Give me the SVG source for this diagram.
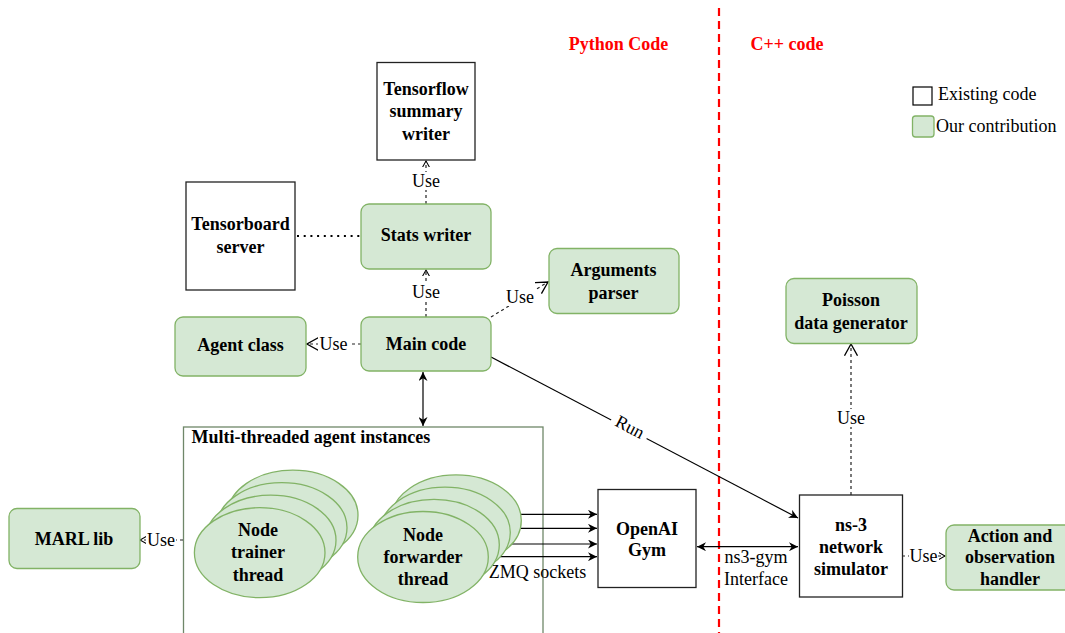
<svg xmlns="http://www.w3.org/2000/svg" width="1065" height="633" viewBox="0 0 1065 633" font-family="'Liberation Serif', 'Times New Roman', serif" font-size="18">
<style>
text{font-family:'Liberation Serif','Times New Roman',serif;font-size:18px;fill:#000}
.b{font-weight:bold}
.c{text-anchor:middle}
.red{fill:#ff0000;font-weight:bold}
.green{fill:#d5e8d4;stroke:#82b366;stroke-width:1.3}
.plain{fill:#fff;stroke:#222;stroke-width:1.3}
.ln{fill:none;stroke:#000;stroke-width:1.2}
.dash{fill:none;stroke:#222;stroke-width:1.2;stroke-dasharray:3 3}
.dot{fill:none;stroke:#000;stroke-width:2.2;stroke-dasharray:2 4.7}
.lbl{fill:#fff;stroke:none}
</style>
<defs>
<marker id="fa" viewBox="0 0 10 10" refX="10" refY="5" markerWidth="10" markerHeight="9" markerUnits="userSpaceOnUse" orient="auto-start-reverse">
<path d="M0,0 L10,5 L0,10 L3,5 z" fill="#000"/>
</marker>
<marker id="os" viewBox="0 0 10 10" refX="9" refY="5" markerWidth="7" markerHeight="8" markerUnits="userSpaceOnUse" orient="auto">
<path d="M0,0 L9,5 L0,10" fill="none" stroke="#000" stroke-width="1.5"/>
</marker>
<marker id="ol" viewBox="0 0 10 10" refX="9" refY="5" markerWidth="13" markerHeight="14" markerUnits="userSpaceOnUse" orient="auto">
<path d="M0,0 L9,5 L0,10" fill="none" stroke="#000" stroke-width="1"/>
</marker>
</defs>
<rect width="1065" height="633" fill="#fff"/>

<g id="divider">
<line x1="719" y1="8" x2="719" y2="633" stroke="#ff0000" stroke-width="2.2" stroke-dasharray="8 5"/>
<text class="red c" x="618.5" y="50" font-family="'Liberation Serif', serif">Python Code</text>
<text class="red c" x="787" y="50" font-family="'Liberation Serif', serif">C++ code</text>
</g>

<g id="legend" font-family="'Liberation Serif', serif">
<rect x="913" y="87" width="19" height="18" fill="#fff" stroke="#000" stroke-width="1.2"/>
<text x="938" y="100">Existing code</text>
<rect x="912.5" y="116" width="21.5" height="21" rx="3" class="green"/>
<text x="936" y="131.5">Our contribution</text>
</g>

<g id="container" font-family="'Liberation Serif', serif">
<rect x="183.5" y="427" width="359.5" height="230" fill="none" stroke="#6f8769" stroke-width="1.3"/>
<text class="b" x="191.5" y="443">Multi-threaded agent instances</text>
</g>

<g id="connectors" font-family="'Liberation Serif', serif">
<line class="dash" x1="426" y1="204" x2="426" y2="161" marker-end="url(#os)"/>
<rect class="lbl" x="411" y="172" width="30" height="18"/>
<text class="c" x="426" y="187">Use</text>
<line class="dash" x1="426" y1="317" x2="426" y2="270" marker-end="url(#os)"/>
<rect class="lbl" x="411" y="283" width="30" height="18"/>
<text class="c" x="426" y="298">Use</text>
<line class="dash" x1="361" y1="344" x2="307" y2="344" marker-end="url(#ol)"/>
<rect class="lbl" x="318" y="335" width="31" height="18"/>
<text class="c" x="333.5" y="350">Use</text>
<line class="dash" x1="491" y1="317" x2="548" y2="282" marker-end="url(#ol)"/>
<rect class="lbl" x="505" y="288" width="30" height="18"/>
<text class="c" x="520" y="303">Use</text>
<line class="dot" x1="297" y1="236" x2="361" y2="236"/>
<line class="ln" x1="423" y1="372" x2="423" y2="426" marker-start="url(#fa)" marker-end="url(#fa)"/>
<line class="ln" x1="491" y1="357" x2="798" y2="518" marker-end="url(#fa)"/>
<rect class="lbl" x="-20" y="-9" width="40" height="18" transform="translate(629,429) rotate(27.6)"/>
<text class="c" transform="translate(630,427) rotate(27.6)" y="6">Run</text>
<line class="ln" x1="480" y1="514.3" x2="597" y2="514.3" marker-end="url(#fa)"/>
<line class="ln" x1="480" y1="528.3" x2="597" y2="528.3" marker-end="url(#fa)"/>
<line class="ln" x1="480" y1="544" x2="597" y2="544" marker-end="url(#fa)"/>
<line class="ln" x1="480" y1="556.7" x2="597" y2="556.7" marker-end="url(#fa)"/>
<text class="c" x="537.5" y="578">ZMQ sockets</text>
<line class="ln" x1="697" y1="546.7" x2="798" y2="546.7" marker-start="url(#fa)" marker-end="url(#fa)"/>
<text class="c" x="756" y="563">ns3-gym</text>
<text class="c" x="756" y="585">Interface</text>
<line class="dash" x1="851" y1="495" x2="851" y2="344" marker-end="url(#ol)"/>
<rect class="lbl" x="836" y="409" width="30" height="18"/>
<text class="c" x="851" y="424">Use</text>
<line class="dash" x1="902" y1="556" x2="945" y2="556" marker-end="url(#os)"/>
<rect class="lbl" x="909" y="547" width="29" height="18"/>
<text class="c" x="923.5" y="562">Use</text>
<line class="dash" x1="183" y1="540" x2="140" y2="540" marker-end="url(#os)"/>
<rect class="lbl" x="146" y="531" width="30" height="18"/>
<text class="c" x="161" y="546">Use</text>
</g>

<g id="tensorflow" font-family="'Liberation Serif', serif">
<rect class="plain" x="377" y="62.5" width="98" height="97.5"/>
<text class="b c" x="426" y="94.5">Tensorflow</text>
<text class="b c" x="426" y="117">summary</text>
<text class="b c" x="426" y="139.5">writer</text>
</g>

<g id="tensorboard" font-family="'Liberation Serif', serif">
<rect class="plain" x="186" y="182" width="109" height="108"/>
<text class="b c" x="240.5" y="230">Tensorboard</text>
<text class="b c" x="240.5" y="253">server</text>
</g>

<g id="stats" font-family="'Liberation Serif', serif">
<rect class="green" x="361" y="204" width="130" height="65" rx="8"/>
<text class="b c" x="426" y="241">Stats writer</text>
</g>

<g id="main" font-family="'Liberation Serif', serif">
<rect class="green" x="361" y="317" width="130" height="54" rx="8"/>
<text class="b c" x="426" y="349.5">Main code</text>
</g>

<g id="agent" font-family="'Liberation Serif', serif">
<rect class="green" x="175" y="317" width="131" height="59" rx="8"/>
<text class="b c" x="240.5" y="351">Agent class</text>
</g>

<g id="arguments" font-family="'Liberation Serif', serif">
<rect class="green" x="549" y="248.5" width="130" height="65" rx="8"/>
<text class="b c" x="613.5" y="275.5">Arguments</text>
<text class="b c" x="613.5" y="298.5">parser</text>
</g>

<g id="poisson" font-family="'Liberation Serif', serif">
<rect class="green" x="786" y="278.5" width="131" height="65" rx="8"/>
<text class="b c" x="851" y="305.5">Poisson</text>
<text class="b c" x="851" y="328.5">data generator</text>
</g>

<g id="ns3" font-family="'Liberation Serif', serif">
<rect class="plain" x="799.5" y="495" width="103" height="102"/>
<text class="b c" x="851" y="531">ns-3</text>
<text class="b c" x="851" y="552.5">network</text>
<text class="b c" x="851" y="574.5">simulator</text>
</g>

<g id="action" font-family="'Liberation Serif', serif">
<rect class="green" x="946" y="525" width="128" height="65" rx="8"/>
<text class="b c" x="1010" y="542">Action and</text>
<text class="b c" x="1010" y="563">observation</text>
<text class="b c" x="1010" y="585">handler</text>
</g>

<g id="gym" font-family="'Liberation Serif', serif">
<rect class="plain" x="598" y="489.5" width="98" height="98"/>
<text class="b c" x="647" y="534.5">OpenAI</text>
<text class="b c" x="647" y="556">Gym</text>
</g>

<g id="marl" font-family="'Liberation Serif', serif">
<rect class="green" x="9" y="508.5" width="131" height="60" rx="8"/>
<text class="b c" x="74" y="544.5">MARL lib</text>
</g>

<g id="trainer" font-family="'Liberation Serif', serif">
<ellipse class="green" cx="292.7" cy="515.2" rx="65.3" ry="45"/>
<ellipse class="green" cx="281.7" cy="527.7" rx="65.3" ry="45"/>
<ellipse class="green" cx="270.7" cy="540.2" rx="65.3" ry="45"/>
<ellipse class="green" cx="259.7" cy="552.7" rx="65.3" ry="45"/>
<text class="b c" x="258" y="536">Node</text>
<text class="b c" x="258" y="558">trainer</text>
<text class="b c" x="258" y="580.5">thread</text>
</g>

<g id="forwarder" font-family="'Liberation Serif', serif">
<ellipse class="green" cx="456" cy="520.4" rx="65.3" ry="45.5"/>
<ellipse class="green" cx="445" cy="532.6" rx="65.3" ry="45.5"/>
<ellipse class="green" cx="434" cy="544.8" rx="65.3" ry="45.5"/>
<ellipse class="green" cx="423" cy="557" rx="65.3" ry="45.5"/>
<text class="b c" x="423" y="541">Node</text>
<text class="b c" x="423" y="563">forwarder</text>
<text class="b c" x="423" y="585">thread</text>
</g>
</svg>
